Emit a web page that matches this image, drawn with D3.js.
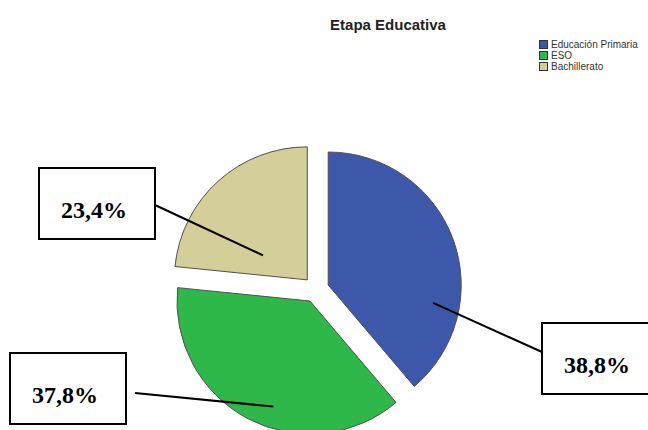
<!DOCTYPE html>
<html>
<head>
<meta charset="utf-8">
<script src="https://cdn.jsdelivr.net/npm/d3@7"></script>
<style>
  html, body { margin: 0; padding: 0; background: #fff; }
  #chart { width: 648px; height: 430px; overflow: hidden; }
</style>
</head>
<body>
<div id="chart"></div>
<script>
//Datos
const categorias = ['Educación Primaria', 'ESO', 'Bachillerato'];
const porcentajes = [38.8, 37.8, 23.4];
const titulo = 'Etapa Educativa';

//Colores fijos
const COLOR_PRIMARIA = '#3D58AA',
    COLOR_ESO = '#2EB84A',
    COLOR_BACH = '#D4CF99';

//Cajas de etiquetas (posición manual, como en el original)
//lx/ly: inicio de la línea respecto a la caja
const cajas = [
    {x: 542, y: 323, lx: 0, ly: 29, ang: 99.7, frac: 0.80},
    {x: 10, y: 353, lx: 125, ly: 40, ang: 199.1, frac: 0.84},
    {x: 39, y: 168, lx: 116, ly: 37, ang: 298.9, frac: 0.38}
];

let width = 648, height = 430;
let cx = 316, cy = 289.5, radius = 133, explode = 13;

let svg = d3.select('#chart')
    .append('svg')
    .attr('width', width)
    .attr('height', height);

let color = d3.scaleOrdinal()
    .domain(categorias)
    .range([COLOR_PRIMARIA, COLOR_ESO, COLOR_BACH]);

let pie = d3.pie().sort(null).value(d => d.valor);
let arcos = pie(categorias.map((c, i) => ({cat: c, valor: porcentajes[i]})));

let arc = d3.arc().innerRadius(0).outerRadius(radius);

function offset(d) {
    let a = (d.startAngle + d.endAngle) / 2;
    return [explode * Math.sin(a), -explode * Math.cos(a)];
}

let g = svg.append('g').attr('transform', 'translate(' + cx + ',' + cy + ')');

g.selectAll('path')
    .data(arcos)
    .enter()
    .append('path')
    .attr('transform', d => 'translate(' + offset(d) + ')')
    .attr('d', arc)
    .attr('fill', d => color(d.data.cat))
    .attr('stroke', '#505050')
    .attr('stroke-width', 1);

//Titulo
svg.append('text')
    .attr('x', 388)
    .attr('y', 30)
    .attr('text-anchor', 'middle')
    .style('font-family', 'Liberation Sans, Arial, sans-serif')
    .style('font-weight', 'bold')
    .style('font-size', '15px')
    .attr('fill', '#222')
    .text(titulo);

//Leyenda
let leyenda = svg.append('g').attr('transform', 'translate(539,40)');
let filas = leyenda.selectAll('g')
    .data(categorias)
    .enter()
    .append('g')
    .attr('transform', (d, i) => 'translate(0,' + (i * 11) + ')');

filas.append('rect')
    .attr('x', 0.5).attr('y', 0.5)
    .attr('width', 8).attr('height', 8)
    .attr('fill', d => color(d))
    .attr('stroke', '#333')
    .attr('stroke-width', 1);

filas.append('text')
    .attr('x', 12)
    .attr('y', 7.8)
    .style('font-family', 'Liberation Sans, Arial, sans-serif')
    .style('font-size', '10px')
    .attr('fill', '#333')
    .text(d => d);

//Etiquetas con lineas
let fmt = v => d3.format('.1f')(v).replace('.', ',') + '%';

arcos.forEach(function(d, i) {
    let c = cajas[i];
    let o = offset(d);
    let a = c.ang * Math.PI / 180;
    let px = cx + o[0] + c.frac * radius * Math.sin(a);
    let py = cy + o[1] - c.frac * radius * Math.cos(a);
    let bw = 116, bh = 71;

    svg.append('line')
        .attr('x1', c.x + c.lx).attr('y1', c.y + c.ly)
        .attr('x2', px).attr('y2', py)
        .attr('stroke', '#000')
        .attr('stroke-width', 2);

    svg.append('rect')
        .attr('x', c.x).attr('y', c.y)
        .attr('width', bw).attr('height', bh)
        .attr('fill', '#fff')
        .attr('stroke', '#000')
        .attr('stroke-width', 2);

    svg.append('text')
        .attr('x', c.x + 22)
        .attr('y', c.y + 49.5)
        .style('font-family', 'Liberation Serif, Times New Roman, serif')
        .style('font-weight', 'bold')
        .style('font-size', '24px')
        .attr('fill', '#000')
        .text(fmt(d.data.valor));
});
</script>
</body>
</html>
